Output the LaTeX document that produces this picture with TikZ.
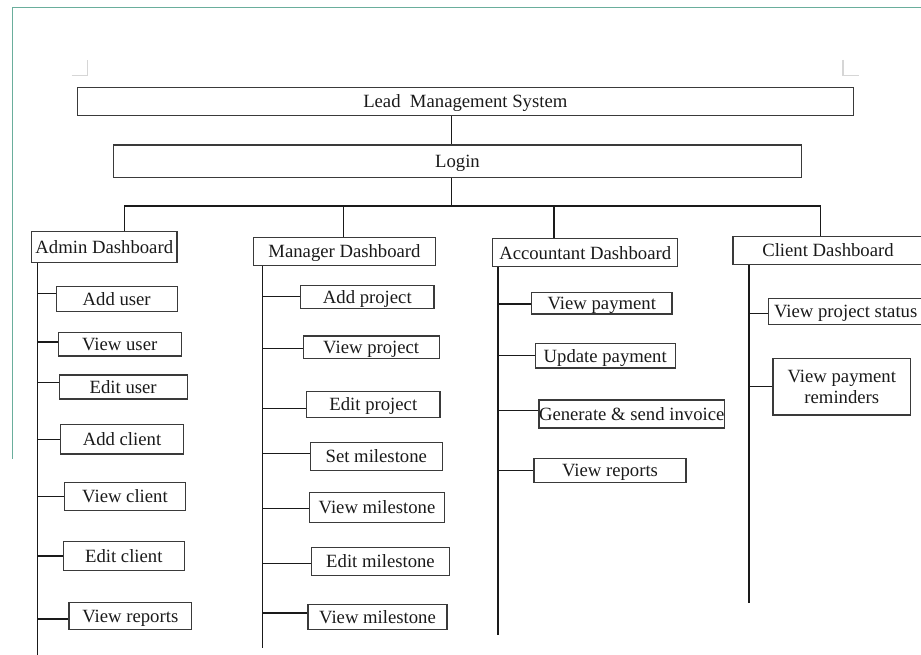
\documentclass[tikz,border=0pt]{standalone}
\usepackage{fontspec}
\setmainfont{Liberation Serif}
\begin{document}
\begin{tikzpicture}[x=1pt,y=-1pt,
  box/.style={draw=boxline, line width=1.1pt, inner sep=0pt, text=ink,
    font=\fontsize{18.7}{21}\selectfont, align=center, text depth=0pt},
  link/.style={draw=ink, line width=1.1pt},
  spine/.style={draw=ink, line width=1.2pt}]
\definecolor{boxline}{HTML}{3A3A3A}
\definecolor{ink}{HTML}{1A1A1A}
\definecolor{frame}{HTML}{6AAE9C}
\definecolor{corner}{HTML}{D6D6D6}
\useasboundingbox (0,0) rectangle (921,655);
\clip (0,0) rectangle (921,655);

% page frame and corner marks
\draw[frame, line width=1pt] (12,459) -- (12,7.3) -- (925,7.3);
\draw[corner, line width=1.4pt] (71.7,75.7) -- (87.3,75.7) -- (87.3,60);
\draw[corner, line width=1.4pt] (843,60) -- (843,75.7) -- (859,75.7);

% top levels
\node[box, minimum width=776, minimum height=28.4] (lms) at (465.3,101.5) {Lead\ \ Management System};
\node[box, minimum width=687.6, minimum height=32.3] (login) at (457.5,161.2) {Login};

% dashboards
\node[box, minimum width=145.3, minimum height=31] (adm) at (104.3,247.2) {Admin Dashboard};
\node[box, minimum width=181.6, minimum height=28.4] (man) at (344.5,251.5) {Manager Dashboard};
\node[box, minimum width=185, minimum height=28] (acc) at (585.2,252.7) {Accountant Dashboard};
\node[box, minimum width=190, minimum height=27.7] (cli) at (828,250.2) {Client Dashboard};

% junction points of the distribution bus
\coordinate (jt) at (451.7,206);
\coordinate (ja) at (124.3,206);
\coordinate (jm) at (343.3,206);
\coordinate (jc) at (554,206);
\coordinate (jl) at (820.5,206);

\draw[link] (jt |- lms.south) -- (jt |- login.north);
\draw[link] (jt |- login.south) -- (jt);
\draw[link] (ja |- adm.north) -- (ja) -- (jl) -- (jl |- cli.north);
\draw[link] (jm) -- (jm |- man.north);
\draw[link] (jc) -- (jc |- acc.north);

% spine ends
\coordinate (sa) at (37.3,656);
\coordinate (sm) at (262.3,648);
\coordinate (sc) at (498,635);
\coordinate (sl) at (749,603.3);
\draw[spine] (sa |- adm.south) -- (sa);
\draw[spine] (sm |- man.south) -- (sm);
\draw[spine] (sc |- acc.south) -- (sc);
\draw[spine] (sl |- cli.south) -- (sl);

% admin items
\node[box, minimum width=121.3, minimum height=24.6] (a1) at (116.7,299) {Add user};
\node[box, minimum width=122.7, minimum height=23.3] (a2) at (119.7,344.3) {View user};
\node[box, minimum width=127.7, minimum height=24] (a3) at (123.2,387) {Edit user};
\node[box, minimum width=122.6, minimum height=29.3] (a4) at (122,439.3) {Add client};
\node[box, minimum width=121.4, minimum height=28.3] (a5) at (125,496.2) {View client};
\node[box, minimum width=121, minimum height=29.4] (a6) at (123.8,556) {Edit client};
\node[box, minimum width=122.7, minimum height=27] (a7) at (130.3,616.2) {View reports};
\foreach \n/\d in {a1/5.3, a2/2.3, a3/4.3, a4/0, a5/0, a6/0, a7/-2.8}
  \draw[link] ([yshift=\d]\n.west) -- ([yshift=\d]\n.west -| sa);

% manager items
\node[box, minimum width=133.3, minimum height=22.7] (m1) at (367.3,296.7) {Add project};
\node[box, minimum width=135.7, minimum height=22.7] (m2) at (371.2,347.3) {View project};
\node[box, minimum width=133.3, minimum height=26.4] (m3) at (373.3,404.5) {Edit project};
\node[box, minimum width=132, minimum height=28.4] (m4) at (376.3,456.5) {Set milestone};
\node[box, minimum width=135.4, minimum height=29.6] (m5) at (377,507.5) {View milestone};
\node[box, minimum width=137.6, minimum height=28.3] (m6) at (380.5,561.2) {Edit milestone};
\node[box, minimum width=139, minimum height=25] (m7) at (377.5,617.2) {View milestone};
\foreach \n/\d in {m1/0, m2/-1, m3/-3.8, m4/2.8, m5/-0.8, m6/-2.5, m7/4.2}
  \draw[link] ([yshift=\d]\n.west) -- ([yshift=\d]\n.west -| sm);

% accountant items
\node[box, minimum width=140.3, minimum height=21.3] (c1) at (601.8,303.3) {View payment};
\node[box, minimum width=140.3, minimum height=24.3] (c2) at (605.2,355.8) {Update payment};
\node[box, minimum width=184, minimum height=28] (c3) at (631.7,414) {Generate \& send invoice};
\node[box, minimum width=152, minimum height=23.6] (c4) at (610,470.5) {View reports};
\foreach \n/\d in {c1/-0.7, c2/0, c3/3.3, c4/0}
  \draw[link] ([yshift=\d]\n.west) -- ([yshift=\d]\n.west -| sc);

% client items
\node[box, minimum width=154.7, minimum height=26] (l1) at (845.7,311.3) {View project status};
\node[box, minimum width=137.7, minimum height=56.3] (l2) at (841.8,386.8) {View payment\\reminders};
\foreach \n/\d in {l1/-2, l2/0}
  \draw[link] ([yshift=\d]\n.west) -- ([yshift=\d]\n.west -| sl);
\end{tikzpicture}
\end{document}
